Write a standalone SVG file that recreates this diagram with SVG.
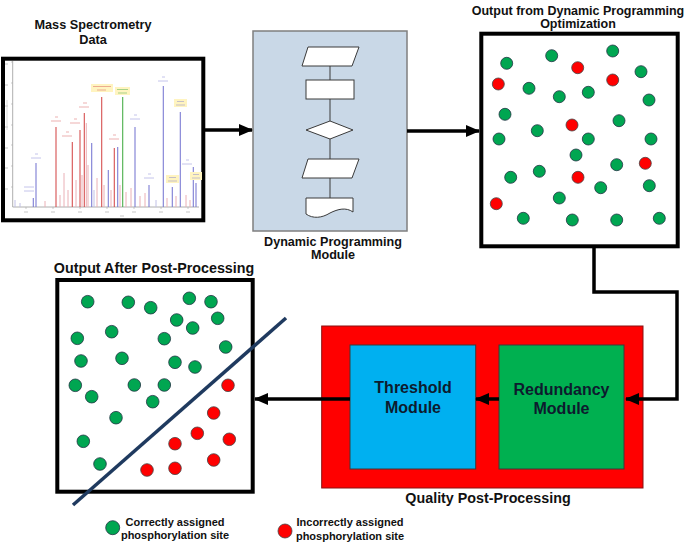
<svg xmlns="http://www.w3.org/2000/svg" width="685" height="542" viewBox="0 0 685 542">
<defs>
<style>
.t{font-family:"Liberation Sans",Arial,sans-serif;font-weight:bold;fill:#111;text-anchor:middle}
.thick{fill:#fff;stroke:#000;stroke-width:4}
.g{fill:#00a651;stroke:#234;stroke-width:0.8}
.r{fill:#ff0000;stroke:#444;stroke-width:0.8}
.fc{fill:#fff;stroke:#3a3a3a;stroke-width:1}
.conn{fill:none;stroke:#000;stroke-width:3.5}
.pb{stroke:#7c7cd4;stroke-width:1.1}
.pr{stroke:#d65050;stroke-width:1.1}
.pg{stroke:#4aae4a;stroke-width:1.1}
.pf{stroke:#eab0b6;stroke-width:1}
.pl{stroke:#c0c0e6;stroke-width:1}
.lb{stroke:#7c7cd4;stroke-width:0.8;opacity:0.55}
.lr{stroke:#d65050;stroke-width:0.8;opacity:0.55}
.lg{stroke:#4aae4a;stroke-width:0.8;opacity:0.6}
.mod{font-family:"Liberation Sans",Arial,sans-serif;font-weight:bold;fill:#0d1b2e;text-anchor:middle;font-size:16px}
</style>
<marker id="ah" markerUnits="userSpaceOnUse" markerWidth="14" markerHeight="14" viewBox="0 0 14 14" refX="13" refY="7" orient="auto">
<path d="M0,1 L14,7 L0,13 Z" fill="#000"/>
</marker>
</defs>
<rect width="685" height="542" fill="#fff"/>

<g id="mass-spec">
<text class="t" x="93" y="29" font-size="12.7">Mass Spectrometry</text>
<text class="t" x="93" y="44" font-size="12.7">Data</text>
<rect class="thick" x="3" y="58.7" width="200.3" height="161.6"/>
<g id="spectrum">
<line x1="12.7" y1="61" x2="12.7" y2="207" stroke="#999" stroke-width="0.8"/>
<line x1="12.7" y1="207" x2="199" y2="207" stroke="#999" stroke-width="0.8"/>
<g stroke="#aaa" stroke-width="0.6">
<line x1="11" y1="62" x2="12.7" y2="62"/><line x1="11" y1="83" x2="12.7" y2="83"/><line x1="11" y1="104" x2="12.7" y2="104"/><line x1="11" y1="125" x2="12.7" y2="125"/><line x1="11" y1="145" x2="12.7" y2="145"/><line x1="11" y1="166" x2="12.7" y2="166"/><line x1="11" y1="187" x2="12.7" y2="187"/>
<line x1="26" y1="207" x2="26" y2="209"/><line x1="53" y1="207" x2="53" y2="209"/><line x1="80" y1="207" x2="80" y2="209"/><line x1="107" y1="207" x2="107" y2="209"/><line x1="134" y1="207" x2="134" y2="209"/><line x1="161" y1="207" x2="161" y2="209"/><line x1="188" y1="207" x2="188" y2="209"/>
</g>
<g stroke="#d0d0d0" stroke-width="1.2">
<line x1="5" y1="64" x2="8" y2="64"/><line x1="5" y1="85" x2="8" y2="85"/><line x1="5" y1="106" x2="8" y2="106"/><line x1="5" y1="127" x2="8" y2="127"/><line x1="5" y1="148" x2="8" y2="148"/><line x1="5" y1="168" x2="8" y2="168"/><line x1="5" y1="189" x2="8" y2="189"/>
<line x1="7" y1="100" x2="7" y2="130" stroke-width="0.8"/>
<line x1="24" y1="212" x2="28" y2="212"/><line x1="51" y1="212" x2="55" y2="212"/><line x1="78" y1="212" x2="82" y2="212"/><line x1="105" y1="212" x2="109" y2="212"/><line x1="132" y1="212" x2="136" y2="212"/><line x1="159" y1="212" x2="163" y2="212"/><line x1="186" y1="212" x2="190" y2="212"/>
<line x1="120" y1="216" x2="124" y2="216"/>
</g>
<g>
<line class="pl" x1="15" y1="207" x2="15" y2="200"/><line class="pl" x1="20" y1="207" x2="20" y2="203"/><line class="pf" x1="45" y1="207" x2="45" y2="201"/><line class="pf" x1="60" y1="207" x2="60" y2="195"/><line class="pf" x1="68" y1="207" x2="68" y2="190"/><line class="pf" x1="76" y1="207" x2="76" y2="180"/><line class="pf" x1="82" y1="207" x2="82" y2="175"/><line class="pf" x1="88" y1="207" x2="88" y2="165"/><line class="pl" x1="94" y1="207" x2="94" y2="190"/><line class="pf" x1="97" y1="207" x2="97" y2="178"/><line class="pf" x1="104" y1="207" x2="104" y2="185"/><line class="pf" x1="111" y1="207" x2="111" y2="190"/><line class="pf" x1="120" y1="207" x2="120" y2="185"/><line class="pf" x1="126" y1="207" x2="126" y2="192"/><line class="pf" x1="131" y1="207" x2="131" y2="188"/><line class="pf" x1="140" y1="207" x2="140" y2="196"/><line class="pf" x1="145" y1="207" x2="145" y2="193"/><line class="pl" x1="156" y1="207" x2="156" y2="200"/><line class="pf" x1="167" y1="207" x2="167" y2="198"/><line class="pf" x1="176" y1="207" x2="176" y2="196"/><line class="pf" x1="186" y1="207" x2="186" y2="195"/><line class="pf" x1="190" y1="207" x2="190" y2="200"/>
<line class="pb" x1="33.3" y1="207" x2="33.3" y2="198"/>
<line class="pb" x1="36" y1="207" x2="36" y2="163"/>
<line class="pr" x1="56" y1="207" x2="56" y2="127"/>
<line class="pf" x1="64" y1="207" x2="64" y2="173" stroke-width="1.2"/>
<line class="pr" x1="72.3" y1="207" x2="72.3" y2="142"/>
<line class="pr" x1="80" y1="207" x2="80" y2="130"/>
<line class="pr" x1="84.3" y1="207" x2="84.3" y2="113"/>
<line class="pf" x1="86.3" y1="207" x2="86.3" y2="123" stroke-width="1.2"/>
<line class="pb" x1="91.7" y1="207" x2="91.7" y2="143"/>
<line class="pr" x1="101.7" y1="207" x2="101.7" y2="97"/>
<line class="pb" x1="108.3" y1="207" x2="108.3" y2="170"/>
<line class="pr" x1="114.3" y1="207" x2="114.3" y2="148"/>
<line class="pb" x1="117.7" y1="207" x2="117.7" y2="147"/>
<line class="pg" x1="122.7" y1="207" x2="122.7" y2="97"/>
<line class="pb" x1="135" y1="207" x2="135" y2="127"/>
<line class="pb" x1="149" y1="207" x2="149" y2="185"/>
<line class="pb" x1="163.3" y1="207" x2="163.3" y2="86"/>
<line class="pb" x1="172.3" y1="207" x2="172.3" y2="187"/>
<line class="pb" x1="180.3" y1="207" x2="180.3" y2="112"/>
<line class="pb" x1="193.3" y1="207" x2="193.3" y2="167"/>
<line class="pb" x1="196" y1="207" x2="196" y2="183"/>
</g>
<g>
<rect x="91" y="84" width="22" height="8" fill="#fff4c0"/>
<rect x="115" y="87" width="15" height="8" fill="#fff4c0"/>
<rect x="174" y="99" width="13" height="8" fill="#fff4c0"/>
<rect x="166" y="175" width="13" height="8" fill="#fff4c0"/>
<rect x="190" y="172" width="12" height="8" fill="#fff4c0"/>
<line class="lr" x1="93" y1="86.5" x2="111" y2="86.5"/><line class="lr" x1="97" y1="90" x2="106" y2="90"/>
<line class="lg" x1="117" y1="89.5" x2="128" y2="89.5"/><line class="lg" x1="118" y1="93" x2="127" y2="93"/>
<line class="lb" x1="177" y1="101.5" x2="184" y2="101.5"/><line class="lb" x1="176" y1="105" x2="185" y2="105"/>
<line class="lb" x1="169" y1="177.5" x2="176" y2="177.5"/><line class="lb" x1="168" y1="181" x2="177" y2="181"/>
<line class="lb" x1="193" y1="174.5" x2="199" y2="174.5"/><line class="lb" x1="192" y1="178" x2="200" y2="178"/>
<line class="lb" x1="35" y1="154" x2="38" y2="154"/><line class="lb" x1="31" y1="158" x2="41" y2="158"/>
<line class="lb" x1="24" y1="187" x2="34" y2="187"/><line class="lb" x1="24" y1="191" x2="34" y2="191"/>
<line class="lr" x1="55" y1="117" x2="58" y2="117"/><line class="lr" x1="51" y1="121" x2="61" y2="121"/>
<line class="lr" x1="66" y1="132" x2="69" y2="132"/><line class="lr" x1="62" y1="136" x2="72" y2="136"/>
<line class="lr" x1="74" y1="119" x2="77" y2="119"/><line class="lr" x1="70" y1="123" x2="80" y2="123"/>
<line class="lr" x1="83" y1="103" x2="87" y2="103"/><line class="lr" x1="79" y1="107" x2="89" y2="107"/>
<line class="lr" x1="113" y1="135" x2="116" y2="135"/><line class="lr" x1="109" y1="139" x2="119" y2="139"/>
<line class="lb" x1="134" y1="115" x2="137" y2="115"/><line class="lb" x1="130" y1="119" x2="140" y2="119"/>
<line class="lb" x1="148" y1="174" x2="151" y2="174"/><line class="lb" x1="144" y1="178" x2="154" y2="178"/>
<line class="lb" x1="162" y1="77" x2="165" y2="77"/><line class="lb" x1="158" y1="81" x2="168" y2="81"/>
<line class="lb" x1="186" y1="160" x2="189" y2="160"/><line class="lb" x1="182" y1="164" x2="192" y2="164"/>
</g>
</g>
</g>

<g id="dp-module">
<rect x="253" y="31" width="154" height="200" fill="#c9d8e7" stroke="#7f7f7f" stroke-width="1.5"/>
<g stroke="#3a3a3a" stroke-width="1">
<line x1="330" y1="66" x2="330" y2="80"/>
<line x1="330" y1="99" x2="330" y2="121"/>
<line x1="330" y1="139" x2="330" y2="159"/>
<line x1="330" y1="178" x2="330" y2="198"/>
</g>
<polygon class="fc" points="308,47 359,47 352,66 302,66"/>
<rect class="fc" x="306" y="80" width="48" height="19"/>
<polygon class="fc" points="306,130 330,121 353,130 330,139"/>
<polygon class="fc" points="308,159 359,159 352,178 302,178"/>
<path class="fc" d="M306,198 H353 V212 C346,207 338,209 330,213 C322,218 313,219 306,214 Z"/>
<text class="t" x="333" y="245.5" font-size="12.6">Dynamic Programming</text>
<text class="t" x="333" y="259" font-size="12.6">Module</text>
</g>

<g id="dp-output">
<text class="t" x="578" y="15" font-size="12.5">Output from Dynamic Programming</text>
<text class="t" x="578" y="27.5" font-size="12.5">Optimization</text>
<rect class="thick" x="481.3" y="33.7" width="196.4" height="212.6"/>
<g>
<circle class="g" cx="506.7" cy="63.3" r="6"/><circle class="g" cx="551.7" cy="55.7" r="6"/><circle class="g" cx="612.7" cy="51" r="6"/><circle class="g" cx="641" cy="71.7" r="6"/><circle class="g" cx="529" cy="88.3" r="6"/><circle class="g" cx="559.3" cy="96.7" r="6"/><circle class="g" cx="588.3" cy="92.3" r="6"/><circle class="g" cx="649" cy="100" r="6"/><circle class="g" cx="505" cy="114.3" r="6"/><circle class="g" cx="537.3" cy="130.7" r="6"/><circle class="g" cx="619" cy="120.7" r="6"/><circle class="g" cx="499" cy="139" r="6"/><circle class="g" cx="588.3" cy="139" r="6"/><circle class="g" cx="651" cy="139" r="6"/><circle class="g" cx="576" cy="155" r="6"/><circle class="g" cx="616.7" cy="164.7" r="6"/><circle class="g" cx="510.7" cy="177.3" r="6"/><circle class="g" cx="539.3" cy="171.3" r="6"/><circle class="g" cx="600.7" cy="187.7" r="6"/><circle class="g" cx="649.3" cy="185.7" r="6"/><circle class="g" cx="559.3" cy="198" r="6"/><circle class="g" cx="523.3" cy="218.3" r="6"/><circle class="g" cx="572.3" cy="220" r="6"/><circle class="g" cx="616.7" cy="220" r="6"/><circle class="g" cx="659.3" cy="218.3" r="6"/>
<circle class="r" cx="577.7" cy="67.7" r="6"/><circle class="r" cx="498.3" cy="84" r="6"/><circle class="r" cx="612.7" cy="80" r="6"/><circle class="r" cx="572" cy="125" r="6"/><circle class="r" cx="645.3" cy="163.3" r="6"/><circle class="r" cx="578" cy="177.3" r="6"/><circle class="r" cx="496.3" cy="203.7" r="6"/>
</g>
</g>

<g id="quality">
<rect x="321.7" y="326" width="321.3" height="162" fill="#ff0000" stroke="#8a1010" stroke-width="1"/>
<text class="t" x="488" y="503.3" font-size="14.3">Quality Post-Processing</text>
</g>
<g id="threshold">
<rect x="350" y="345" width="125.7" height="124" fill="#00b0f0" stroke="#3a3a3a" stroke-width="1"/>
<text class="mod" x="413" y="393.3">Threshold</text>
<text class="mod" x="413" y="412.7">Module</text>
</g>
<g id="redundancy">
<rect x="499" y="345" width="125" height="124" fill="#00b050" stroke="#3a3a3a" stroke-width="1"/>
<text class="mod" x="561.5" y="395">Redundancy</text>
<text class="mod" x="561.5" y="414">Module</text>
</g>

<g id="post-output">
<text class="t" x="154" y="272.5" font-size="14.3">Output After Post-Processing</text>
<rect class="thick" x="57.3" y="280" width="195.4" height="211.7" stroke-width="3.5"/>
<g>
<circle class="g" cx="87.7" cy="301.7" r="6.3"/><circle class="g" cx="128.3" cy="302.3" r="6.3"/><circle class="g" cx="150.7" cy="307.7" r="6.3"/><circle class="g" cx="189.3" cy="298.3" r="6.3"/><circle class="g" cx="211" cy="301.7" r="6.3"/><circle class="g" cx="176.7" cy="320" r="6.3"/><circle class="g" cx="192.7" cy="328" r="6.3"/><circle class="g" cx="217.7" cy="318.3" r="6.3"/><circle class="g" cx="77.3" cy="338.3" r="6.3"/><circle class="g" cx="111.7" cy="331.7" r="6.3"/><circle class="g" cx="164.3" cy="338.7" r="6.3"/><circle class="g" cx="225.7" cy="347" r="6.3"/><circle class="g" cx="81" cy="361" r="6.3"/><circle class="g" cx="122" cy="358.3" r="6.3"/><circle class="g" cx="175" cy="362.3" r="6.3"/><circle class="g" cx="195" cy="367" r="6.3"/><circle class="g" cx="75.3" cy="385.3" r="6.3"/><circle class="g" cx="134.3" cy="385" r="6.3"/><circle class="g" cx="164.3" cy="385" r="6.3"/><circle class="g" cx="91.7" cy="396.7" r="6.3"/><circle class="g" cx="152.7" cy="401.7" r="6.3"/><circle class="g" cx="116" cy="417.7" r="6.3"/><circle class="g" cx="83.3" cy="441.3" r="6.3"/><circle class="g" cx="100" cy="464" r="6.3"/>
<circle class="r" cx="228" cy="385.3" r="6.3"/><circle class="r" cx="213.7" cy="413" r="6.3"/><circle class="r" cx="197.3" cy="433.3" r="6.3"/><circle class="r" cx="229.3" cy="439.3" r="6.3"/><circle class="r" cx="175" cy="443.7" r="6.3"/><circle class="r" cx="213.7" cy="460" r="6.3"/><circle class="r" cx="147" cy="470" r="6.3"/><circle class="r" cx="175" cy="468.3" r="6.3"/>
</g>
<line x1="73" y1="505" x2="286" y2="318" stroke="#1f3a5f" stroke-width="3.5"/>
</g>

<g id="connectors">
<path class="conn" d="M205,130 H252" marker-end="url(#ah)"/>
<path class="conn" d="M407,131 H479" marker-end="url(#ah)"/>
<path class="conn" d="M594,248 V292 H677 V399 H626" marker-end="url(#ah)"/>
<path class="conn" d="M499,399 H476" marker-end="url(#ah)"/>
<path class="conn" d="M350,399 H255" marker-end="url(#ah)"/>
</g>

<g id="legend">
<circle class="g" cx="112.7" cy="527.7" r="7"/>
<text class="t" x="175" y="525.5" font-size="11">Correctly assigned</text>
<text class="t" x="175" y="538.5" font-size="11">phosphorylation site</text>
<circle class="r" cx="285" cy="531" r="7"/>
<text class="t" x="350" y="526" font-size="11">Incorrectly assigned</text>
<text class="t" x="350" y="539.5" font-size="11">phosphorylation site</text>
</g>
</svg>
